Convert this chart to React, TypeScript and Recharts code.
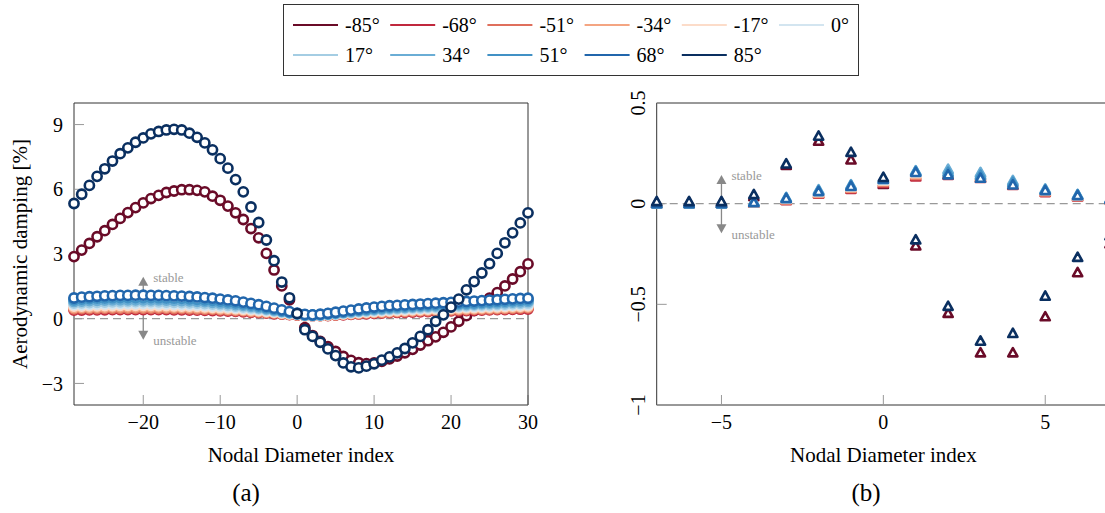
import React from "react";
import { ScatterChart, Scatter, XAxis, YAxis, ReferenceLine } from "recharts";

const FONT = "'Liberation Serif', 'Times New Roman', serif";

const angles = ["-85°", "-68°", "-51°", "-34°", "-17°", "0°", "17°", "34°", "51°", "68°", "85°"];
const colors = ["#6a0b28", "#c0283d", "#df6f5c", "#f4a582", "#fcdcc9", "#d3e5f0", "#a4cde3", "#6aadd5", "#4191c5", "#2166ac", "#0a2f60"];

// panel (a): nodal diameters -29..30
const ndA = [
  -29, -28, -27, -26, -25, -24, -23, -22, -21, -20,
  -19, -18, -17, -16, -15, -14, -13, -12, -11, -10,
  -9, -8, -7, -6, -5, -4, -3, -2, -1, 0,
  1, 2, 3, 4, 5, 6, 7, 8, 9, 10,
  11, 12, 13, 14, 15, 16, 17, 18, 19, 20,
  21, 22, 23, 24, 25, 26, 27, 28, 29, 30,
];

const aM85 = [
  2.88, 3.18, 3.49, 3.8, 4.08, 4.37, 4.65, 4.92, 5.15, 5.37,
  5.57, 5.72, 5.85, 5.92, 5.98, 5.98, 5.95, 5.88, 5.68, 5.49,
  5.22, 4.91, 4.6, 4.18, 3.75, 3.03, 2.26, 1.52, 0.88, 0.22,
  -0.42, -0.78, -1.05, -1.3, -1.52, -1.75, -1.93, -2.04, -2.08, -2.05,
  -1.98, -1.86, -1.73, -1.58, -1.42, -1.22, -1.02, -0.84, -0.63, -0.38,
  -0.12, 0.14, 0.38, 0.65, 0.95, 1.21, 1.52, 1.84, 2.18, 2.54,
];
const aM68 = [
  0.4, 0.4, 0.41, 0.41, 0.41, 0.42, 0.42, 0.42, 0.42, 0.42,
  0.42, 0.42, 0.42, 0.41, 0.41, 0.4, 0.4, 0.39, 0.38, 0.37,
  0.35, 0.34, 0.32, 0.3, 0.28, 0.26, 0.23, 0.21, 0.19, 0.17,
  0.14, 0.13, 0.14, 0.15, 0.17, 0.18, 0.2, 0.22, 0.23, 0.25,
  0.26, 0.28, 0.29, 0.3, 0.31, 0.32, 0.33, 0.34, 0.35, 0.36,
  0.37, 0.38, 0.39, 0.4, 0.41, 0.42, 0.42, 0.43, 0.44, 0.45,
];
const aM51 = [
  0.46, 0.47, 0.47, 0.47, 0.48, 0.48, 0.48, 0.48, 0.48, 0.48,
  0.48, 0.48, 0.48, 0.47, 0.47, 0.46, 0.45, 0.44, 0.43, 0.41,
  0.4, 0.38, 0.36, 0.33, 0.31, 0.28, 0.26, 0.23, 0.2, 0.18,
  0.15, 0.14, 0.15, 0.16, 0.18, 0.2, 0.22, 0.24, 0.26, 0.28,
  0.29, 0.31, 0.32, 0.33, 0.35, 0.36, 0.37, 0.38, 0.39, 0.4,
  0.41, 0.42, 0.43, 0.44, 0.45, 0.46, 0.47, 0.48, 0.49, 0.5,
];
const aM34 = [
  0.52, 0.53, 0.53, 0.54, 0.54, 0.55, 0.55, 0.55, 0.55, 0.55,
  0.55, 0.55, 0.54, 0.54, 0.53, 0.52, 0.51, 0.49, 0.48, 0.46,
  0.44, 0.42, 0.4, 0.37, 0.34, 0.31, 0.28, 0.25, 0.22, 0.19,
  0.15, 0.14, 0.15, 0.17, 0.19, 0.22, 0.24, 0.26, 0.28, 0.3,
  0.32, 0.34, 0.35, 0.37, 0.38, 0.39, 0.41, 0.42, 0.43, 0.44,
  0.45, 0.46, 0.47, 0.48, 0.49, 0.5, 0.51, 0.53, 0.54, 0.55,
];
const aM17 = [
  0.58, 0.59, 0.6, 0.6, 0.61, 0.61, 0.62, 0.62, 0.62, 0.62,
  0.62, 0.61, 0.61, 0.6, 0.59, 0.58, 0.57, 0.55, 0.53, 0.51,
  0.49, 0.47, 0.44, 0.41, 0.38, 0.34, 0.31, 0.27, 0.23, 0.2,
  0.16, 0.15, 0.16, 0.18, 0.21, 0.23, 0.26, 0.28, 0.31, 0.33,
  0.35, 0.37, 0.39, 0.4, 0.42, 0.43, 0.45, 0.46, 0.47, 0.48,
  0.5, 0.51, 0.52, 0.53, 0.54, 0.55, 0.56, 0.58, 0.59, 0.6,
];
const a0 = [
  0.65, 0.66, 0.67, 0.68, 0.69, 0.69, 0.7, 0.7, 0.7, 0.7,
  0.7, 0.69, 0.69, 0.68, 0.67, 0.66, 0.64, 0.62, 0.6, 0.58,
  0.55, 0.52, 0.49, 0.46, 0.42, 0.38, 0.34, 0.29, 0.25, 0.21,
  0.16, 0.15, 0.16, 0.19, 0.22, 0.25, 0.28, 0.31, 0.34, 0.36,
  0.39, 0.41, 0.43, 0.45, 0.46, 0.48, 0.49, 0.51, 0.52, 0.53,
  0.55, 0.56, 0.57, 0.58, 0.6, 0.61, 0.62, 0.63, 0.65, 0.66,
];
const aP17 = [
  0.72, 0.74, 0.75, 0.76, 0.77, 0.78, 0.78, 0.79, 0.79, 0.79,
  0.79, 0.78, 0.77, 0.76, 0.75, 0.74, 0.72, 0.7, 0.68, 0.65,
  0.62, 0.59, 0.55, 0.51, 0.47, 0.42, 0.37, 0.32, 0.27, 0.22,
  0.17, 0.16, 0.17, 0.2, 0.23, 0.27, 0.3, 0.34, 0.37, 0.4,
  0.42, 0.45, 0.47, 0.49, 0.51, 0.52, 0.54, 0.55, 0.57, 0.58,
  0.6, 0.61, 0.63, 0.64, 0.66, 0.67, 0.68, 0.7, 0.71, 0.73,
];
const aP34 = [
  0.8, 0.82, 0.84, 0.85, 0.86, 0.87, 0.88, 0.88, 0.88, 0.88,
  0.88, 0.87, 0.86, 0.85, 0.84, 0.83, 0.81, 0.79, 0.76, 0.73,
  0.7, 0.66, 0.62, 0.57, 0.52, 0.46, 0.4, 0.34, 0.28, 0.23,
  0.17, 0.16, 0.18, 0.21, 0.25, 0.29, 0.33, 0.37, 0.4, 0.43,
  0.46, 0.49, 0.51, 0.53, 0.55, 0.57, 0.59, 0.6, 0.62, 0.63,
  0.65, 0.67, 0.68, 0.7, 0.72, 0.73, 0.75, 0.77, 0.78, 0.8,
];
const aP51 = [
  0.88, 0.91, 0.93, 0.95, 0.96, 0.97, 0.98, 0.98, 0.98, 0.98,
  0.98, 0.97, 0.96, 0.95, 0.94, 0.92, 0.9, 0.88, 0.85, 0.82,
  0.78, 0.74, 0.69, 0.64, 0.58, 0.51, 0.44, 0.37, 0.3, 0.24,
  0.18, 0.17, 0.19, 0.23, 0.27, 0.31, 0.36, 0.4, 0.44, 0.48,
  0.51, 0.54, 0.56, 0.58, 0.6, 0.62, 0.64, 0.66, 0.67, 0.69,
  0.71, 0.73, 0.74, 0.76, 0.78, 0.8, 0.82, 0.84, 0.86, 0.88,
];
const aP68 = [
  0.96, 1.0, 1.02, 1.04, 1.06, 1.07, 1.08, 1.08, 1.09, 1.09,
  1.08, 1.08, 1.07, 1.06, 1.05, 1.03, 1.01, 0.98, 0.95, 0.91,
  0.87, 0.83, 0.77, 0.71, 0.65, 0.57, 0.49, 0.41, 0.33, 0.26,
  0.2, 0.18, 0.21, 0.25, 0.3, 0.35, 0.4, 0.45, 0.5, 0.54,
  0.57, 0.6, 0.62, 0.64, 0.66, 0.68, 0.7, 0.72, 0.74, 0.76,
  0.78, 0.8, 0.82, 0.84, 0.86, 0.88, 0.9, 0.92, 0.94, 0.95,
];
const aP85 = [
  5.34, 5.77, 6.18, 6.6, 6.95, 7.31, 7.65, 7.92, 8.18, 8.38,
  8.57, 8.68, 8.75, 8.78, 8.75, 8.6, 8.41, 8.15, 7.83, 7.42,
  6.98, 6.45, 5.88, 5.18, 4.46, 3.65, 2.69, 1.7, 0.97, 0.24,
  -0.51, -0.82, -1.09, -1.4, -1.71, -2.05, -2.23, -2.28, -2.2, -2.09,
  -1.92, -1.77, -1.58, -1.38, -1.12, -0.82, -0.51, -0.12, 0.18, 0.54,
  0.91, 1.34, 1.72, 2.12, 2.55, 3.03, 3.52, 3.98, 4.44, 4.91,
];

// panel (b): nodal diameters -7..7
const ndB = [-7, -6, -5, -4, -3, -2, -1, 0, 1, 2, 3, 4, 5, 6, 7];
const bM85 = [0.005, 0.005, 0.005, 0.035, 0.19, 0.31, 0.217, 0.095, -0.21, -0.545, -0.741, -0.741, -0.562, -0.343, -0.2];
const bM68 = [0, 0, 0, 0.002, 0.015, 0.047, 0.071, 0.1, 0.133, 0.14, 0.125, 0.09, 0.055, 0.033, 0.016];
const bM51 = [0, 0, 0, 0.003, 0.018, 0.05, 0.075, 0.106, 0.14, 0.145, 0.13, 0.094, 0.058, 0.035, 0.017];
const bM34 = [0, 0, 0, 0.004, 0.02, 0.053, 0.078, 0.11, 0.145, 0.15, 0.135, 0.098, 0.061, 0.037, 0.018];
const bM17 = [0, 0, 0, 0.005, 0.022, 0.056, 0.082, 0.113, 0.15, 0.155, 0.14, 0.102, 0.064, 0.039, 0.019];
const b0 = [0, 0, 0, 0.006, 0.025, 0.06, 0.085, 0.117, 0.155, 0.16, 0.145, 0.106, 0.067, 0.041, 0.02];
const bP17 = [0, 0, 0, 0.008, 0.027, 0.064, 0.088, 0.12, 0.16, 0.165, 0.15, 0.11, 0.07, 0.043, 0.022];
const bP34 = [0, 0, 0, 0.01, 0.03, 0.068, 0.093, 0.125, 0.163, 0.17, 0.154, 0.114, 0.072, 0.045, 0.024];
const bP51 = [0, 0, 0, 0.008, 0.028, 0.065, 0.09, 0.122, 0.16, 0.155, 0.14, 0.105, 0.068, 0.043, 0.022];
const bP68 = [0, 0, 0, 0.005, 0.025, 0.06, 0.085, 0.12, 0.155, 0.143, 0.126, 0.093, 0.065, 0.04, 0.02];
const bP85 = [0.01, 0.01, 0.01, 0.045, 0.197, 0.335, 0.255, 0.13, -0.18, -0.51, -0.683, -0.645, -0.46, -0.267, -0.16];

const ticksAX = [-20, -10, 0, 10, 20, 30];
const ticksAY = [-3, 0, 3, 6, 9];
const ticksBX = [-5, 0, 5];
const ticksBY = [-1, -0.5, 0, 0.5];

const seriesA = [aM85, aM68, aM51, aM34, aM17, a0, aP17, aP34, aP51, aP68, aP85];
const seriesB = [bM85, bM68, bM51, bM34, bM17, b0, bP17, bP34, bP51, bP68, bP85];

const toPts = (xs: number[], ys: number[]) => xs.map((x, i) => ({ x, y: ys[i] }));
const fmt = (v: number) => (v < 0 ? "\u2212" + Math.abs(v) : String(v));

const Ring = (color: string) => (p: any) =>
  p.cx == null ? <g /> : <circle cx={p.cx} cy={p.cy} r={4.6} fill="#fff" stroke={color} strokeWidth={2.6} />;

const Tri = (color: string) => (p: any) => {
  if (p.cx == null) return <g />;
  const { cx, cy } = p;
  return (
    <polygon
      points={`${cx},${cy - 4.8} ${cx - 4.6},${cy + 3.5} ${cx + 4.6},${cy + 3.5}`}
      fill="#fff"
      stroke={color}
      strokeWidth={2.6}
      strokeLinejoin="round"
    />
  );
};

const Arrow = (p: any) => {
  const { x1, y1, y2 } = p;
  return (
    <g>
      <line x1={x1} x2={x1} y1={y1 + 7} y2={y2 - 7} stroke="#888" strokeWidth={1.3} />
      <polygon points={`${x1},${y1} ${x1 - 5},${y1 + 9} ${x1 + 5},${y1 + 9}`} fill="#888" />
      <polygon points={`${x1},${y2} ${x1 - 5},${y2 - 9} ${x1 + 5},${y2 - 9}`} fill="#888" />
      <text x={x1 + 10} y={y1 + 1} dominantBaseline="central" fontSize={13} fill="#999" fontFamily={FONT}>stable</text>
      <text x={x1 + 10} y={y2 + 1} dominantBaseline="central" fontSize={13} fill="#999" fontFamily={FONT}>unstable</text>
    </g>
  );
};

const RotTick = (p: any) => (
  <text
    x={p.x}
    y={p.y}
    transform={`rotate(-90 ${p.x} ${p.y})`}
    textAnchor="middle"
    fontSize={20}
    fontFamily={FONT}
    fill="#000"
  >
    {fmt(p.payload.value)}
  </text>
);

const tickStyle = { fill: "#000", fontSize: 20, fontFamily: FONT };
const axisLine = { stroke: "#333", strokeWidth: 1 };
const tickLine = { stroke: "#999", strokeWidth: 1 };

function PanelA() {
  return (
    <ScatterChart width={540} height={513} margin={{ top: 102, right: 11, bottom: 58, left: 14 }}>
      <XAxis
        type="number"
        dataKey="x"
        domain={[-29, 30]}
        ticks={ticksAX}
        tickFormatter={fmt}
        height={50}
        tick={tickStyle}
        tickSize={-10}
        tickMargin={20}
        axisLine={axisLine}
        tickLine={tickLine}
        label={{ value: "Nodal Diameter index", position: "insideTop", offset: 42, fill: "#000", fontSize: 21, fontFamily: FONT }}
      />
      <XAxis xAxisId="top" orientation="top" type="number" domain={[-29, 30]} ticks={ticksAX} height={1} tick={false} tickSize={-10} axisLine={axisLine} tickLine={tickLine} />
      <YAxis
        type="number"
        dataKey="y"
        domain={[-4, 10]}
        ticks={ticksAY}
        tickFormatter={fmt}
        width={60}
        tick={tickStyle}
        tickSize={-10}
        tickMargin={21}
        axisLine={axisLine}
        tickLine={tickLine}
        label={{ value: "Aerodynamic damping [%]", angle: -90, position: "center", dx: -24, fill: "#000", fontSize: 21, fontFamily: FONT }}
      />
      <YAxis yAxisId="right" orientation="right" type="number" domain={[-4, 10]} ticks={ticksAY} width={1} tick={false} tickSize={-10} axisLine={axisLine} tickLine={tickLine} />
      <ReferenceLine y={0} stroke="#999" strokeDasharray="8 5" strokeWidth={1.2} />
      {seriesA.map((ys, i) => (
        <Scatter key={angles[i]} name={angles[i]} data={toPts(ndA, ys)} fill={colors[i]} shape={Ring(colors[i])} isAnimationActive={false} />
      ))}
      <ReferenceLine segment={[{ x: -20, y: 1.95 }, { x: -20, y: -0.97 }]} shape={Arrow} />
    </ScatterChart>
  );
}

function PanelB() {
  return (
    <ScatterChart width={560} height={513} margin={{ top: 102, right: 9, bottom: 58, left: 36.7 }}>
      <XAxis
        type="number"
        dataKey="x"
        domain={[-7, 7]}
        ticks={ticksBX}
        tickFormatter={fmt}
        height={50}
        tick={tickStyle}
        tickSize={-10}
        tickMargin={20}
        axisLine={axisLine}
        tickLine={tickLine}
        label={{ value: "Nodal Diameter index", position: "insideTop", offset: 42, fill: "#000", fontSize: 21, fontFamily: FONT }}
      />
      <XAxis xAxisId="top" orientation="top" type="number" domain={[-7, 7]} ticks={ticksBX} height={1} tick={false} tickSize={-10} axisLine={axisLine} tickLine={tickLine} />
      <YAxis
        type="number"
        dataKey="y"
        domain={[-1, 0.5]}
        ticks={ticksBY}
        width={60}
        tick={RotTick}
        tickSize={-10}
        tickMargin={22}
        axisLine={axisLine}
        tickLine={tickLine}
      />
      <YAxis yAxisId="right" orientation="right" type="number" domain={[-1, 0.5]} ticks={ticksBY} width={1} tick={false} tickSize={-10} axisLine={axisLine} tickLine={tickLine} />
      <ReferenceLine y={0} stroke="#999" strokeDasharray="8 5" strokeWidth={1.2} />
      {seriesB.map((ys, i) => (
        <Scatter key={angles[i]} name={angles[i]} data={toPts(ndB, ys)} fill={colors[i]} shape={Tri(colors[i])} isAnimationActive={false} />
      ))}
      <ReferenceLine segment={[{ x: -5, y: 0.143 }, { x: -5, y: -0.147 }]} shape={Arrow} />
    </ScatterChart>
  );
}

function LegendBox() {
  return (
    <svg width={1105} height={90} style={{ position: "absolute", left: 0, top: 0 }}>
      <rect x={283.5} y={4.5} width={575} height={71} fill="#fff" stroke="#333" strokeWidth={1} />
      {angles.map((a, i) => {
        const c = i % 6;
        const r = Math.floor(i / 6);
        const x0 = 293 + c * 97.2;
        const y0 = 25 + r * 30;
        return (
          <g key={a}>
            <line x1={x0} x2={x0 + 45} y1={y0} y2={y0} stroke={colors[i]} strokeWidth={2.2} />
            <text x={x0 + 52} y={y0 + 7} fontSize={20} fontFamily={FONT} fill="#000">{a}</text>
          </g>
        );
      })}
    </svg>
  );
}

export default function App() {
  return (
    <div style={{ position: "fixed", left: 0, top: 0, width: 1105, height: 513, overflow: "hidden", background: "#fff" }}>
      <div style={{ position: "absolute", left: 0, top: 0 }}>
        <PanelA />
      </div>
      <div style={{ position: "absolute", left: 560, top: 0 }}>
        <PanelB />
      </div>
      <LegendBox />
      <svg width={1105} height={513} style={{ position: "absolute", left: 0, top: 0, pointerEvents: "none" }}>
        <text x={246} y={501} textAnchor="middle" fontSize={25} fontFamily={FONT} fill="#000">(a)</text>
        <text x={866} y={501} textAnchor="middle" fontSize={25} fontFamily={FONT} fill="#000">(b)</text>
      </svg>
    </div>
  );
}
